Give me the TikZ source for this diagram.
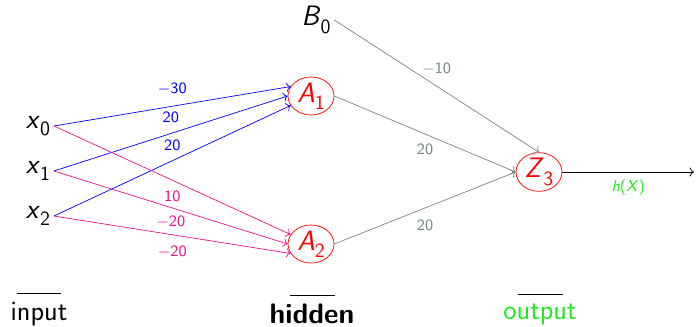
\documentclass[tikz,border=0pt]{standalone}
\usepackage{tikz}
\usetikzlibrary{positioning,arrows.meta,shapes.geometric}
\definecolor{pinkw}{RGB}{232,20,140}
\definecolor{grayw}{RGB}{118,134,134}
\definecolor{outgreen}{RGB}{30,235,30}
\newcommand{\unitlab}[2]{\textit{#1}\raisebox{-4.2pt}{\fontsize{11.5}{13}\selectfont\upshape #2}}
\newcommand{\bigsf}{\fontsize{16}{19}\selectfont\sffamily}
\tikzset{
  unit/.style={font=\bigsf, inner sep=2pt},
  neuron/.style={draw=red, ellipse, text=red, font=\bigsf, minimum width=0.92cm, minimum height=0.76cm, inner sep=0pt},
  inarrow/.style={->, blue},
  inarrow2/.style={->, pinkw},
  outarrow/.style={->, grayw},
  wlabel/.style={font=\small\sffamily, inner sep=1pt},
  layername/.style={font=\bigsf, inner sep=1pt},
  layerline/.style={thin}
}

\begin{document}
\begin{tikzpicture}[x=0.02cm, y=-0.02cm]
  \useasboundingbox (0,0) rectangle (696,327);
  % units
  \node[unit] (x0) at (38,126) {\unitlab{x}{0}};
  \node[unit] (x1) at (38,171) {\unitlab{x}{1}};
  \node[unit] (x2) at (38,216) {\unitlab{x}{2}};
  \node[unit] (b0) at (316,20) {\unitlab{B}{0}};
  \node[neuron] (a1) at (311,96) {\unitlab{A}{1}};
  \node[neuron] (a2) at (311,244) {\unitlab{A}{2}};
  \node[neuron] (z3) at (539,172) {\unitlab{Z}{3}};
  \coordinate (out) at (694,172);

  % input -> hidden
  \draw[inarrow] (x0.east) -- node[wlabel, text=blue, yshift=0.34cm] {$-$30} (a1.155);
  \draw[inarrow] (x1.east) -- node[wlabel, text=blue, yshift=0.32cm] {20} (a1.west);
  \draw[inarrow] (x2.east) -- node[wlabel, text=blue, yshift=0.3cm] {20} (a1.205);
  \draw[inarrow2] (x0.east) -- node[wlabel, text=pinkw, yshift=-0.32cm] {10} (a2.155);
  \draw[inarrow2] (x1.east) -- node[wlabel, text=pinkw, yshift=-0.28cm] {$-$20} (a2.west);
  \draw[inarrow2] (x2.east) -- node[wlabel, text=pinkw, yshift=-0.34cm] {$-$20} (a2.205);

  % hidden -> output
  \draw[outarrow] (b0.east) -- node[wlabel, text=grayw, yshift=0.34cm] {$-$10} (z3.north);
  \draw[outarrow] (a1.east) -- node[wlabel, text=grayw, yshift=-0.3cm] {20} (z3.west);
  \draw[outarrow] (a2.east) -- node[wlabel, text=grayw, yshift=-0.34cm] {20} (z3.west);
  \draw[->] (z3.east) -- node[wlabel, text=outgreen, yshift=-0.32cm] {\textit{h}(\textit{X})} (out);

  % layer names
  \node[layername] (inlab) at (39,314) {input};
  \node[layername, font=\bigsf\bfseries] (hidlab) at (312,314) {hidden};
  \node[layername, text=outgreen] (outlab) at (540,314) {output};
  \draw[layerline] (inlab.north) ++(-0.45cm,0.14cm) -- ++(0.9cm,0);
  \draw[layerline] (hidlab.north) ++(-0.45cm,0.14cm) -- ++(0.9cm,0);
  \draw[layerline] (outlab.north) ++(-0.45cm,0.14cm) -- ++(0.9cm,0);
\end{tikzpicture}
\end{document}
